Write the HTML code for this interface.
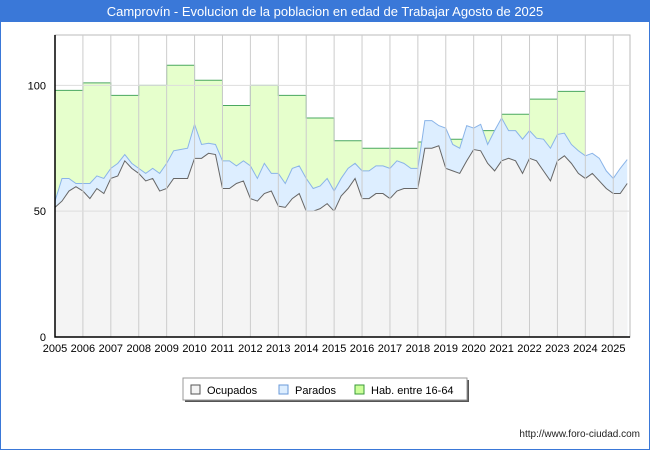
<!DOCTYPE html>
<html><head><meta charset="utf-8"><style>
body{margin:0;background:#fff;font-family:"Liberation Sans",sans-serif;}
#wrap{position:relative;width:650px;height:450px;}
</style></head><body>
<div id="wrap">
<svg id="chart" width="650" height="450" xmlns="http://www.w3.org/2000/svg">
<rect x="0.5" y="0.5" width="649" height="449" fill="#fff" stroke="#3a78d8"/>
<rect x="0" y="0" width="650" height="22" fill="#3a78d8"/>
<text x="325" y="16" text-anchor="middle" font-size="13" fill="#fff">Camprovín - Evolucion de la poblacion en edad de Trabajar Agosto de 2025</text>
<g id="plot"></g>
<g>
<rect x="185" y="380" width="284" height="22" fill="#555" />
<rect x="183" y="378" width="284" height="22" fill="#fff" stroke="#999"/>
<rect x="191" y="385" width="9" height="9" fill="#f4f4f4" stroke="#555"/>
<text x="207" y="394" font-size="11">Ocupados</text>
<rect x="279" y="385" width="9" height="9" fill="#ddeeff" stroke="#6a9ad8"/>
<text x="295" y="394" font-size="11">Parados</text>
<rect x="355" y="385" width="9" height="9" fill="#ccff99" stroke="#3a9a3a"/>
<text x="371" y="394" font-size="11">Hab. entre 16-64</text>
</g>
<text x="640" y="437" text-anchor="end" font-size="10" fill="#222">http://www.foro-ciudad.com</text>
</svg>
</div>
<script>
const years=[2005,2006,2007,2008,2009,2010,2011,2012,2013,2014,2015,2016,2017,2018,2019,2020,2021,2022,2023,2024,2025];
const yTicks=[0,50,100];
const habYears=[2005,2006,2007,2008,2009,2010,2011,2012,2013,2014,2015,2016,2017,2018,2019,2020,2021,2022,2023];
const habValues=[98,101,96,100,108,102,92,100,96,87,78,75,75,77.5,78.6,82,88.5,94.5,97.6];
const ocupados=[51.5,54,58,59.7, 58,55,59,57, 63,64,70,67, 65,62,63,58, 59,63,63,63, 71,71,73,72.5, 59,59,61,62, 55,54,57,58, 52,51.5,55,57, 50,50,51,53, 50,56,59,63, 55,55,57,57, 55,58,59,59, 59,75,75,76, 67,66,65,70, 74.5,74,69,66, 70,71,70,65, 71,70,66,62, 70,72,69,65, 63,65,62,59, 57,57,61];
const parados=[54,63,63,61, 61,61,64,63, 67,69,72.5,69, 67,65,67,65, 69,74,74.5,75, 84.5,76.5,77,76.5, 70,70,68,70, 68,63,69,65, 65,61,67,68, 63,59,60,63, 58,63,67,69, 66,66,68,68, 67,70,69,67, 67,86,86,84, 83,76.5,75,84, 83,84.5,76.5,82, 87,82,82,78.6, 82,79,78.6,75, 80.5,81,76.5,74, 72,73,71,66, 63,67,70.5];

const X0=55,X1=630,Y0=337,YT=35,t0=2005,tEnd=2025.6,yMax=120;
const sx=t=>X0+(t-t0)/(tEnd-t0)*(X1-X0);
const sy=v=>Y0-v/yMax*(Y0-YT);
const ns="http://www.w3.org/2000/svg";
const g=document.getElementById('plot');
function mk(tag,attrs){const e=document.createElementNS(ns,tag);for(const k in attrs)e.setAttribute(k,attrs[k]);g.appendChild(e);return e;}
const tq=i=>t0+i*0.25;
let r=mk('rect',{x:X0,y:YT,width:X1-X0,height:Y0-YT,fill:'#fff',stroke:'#bbb'});


// hab area
let hp=`M${sx(habYears[0])},${Y0}`;
habYears.forEach((y,i)=>{hp+=` L${sx(y)},${sy(habValues[i])} L${sx(y+1)},${sy(habValues[i])}`;});
hp+=` L${sx(habYears[habYears.length-1]+1)},${Y0} Z`;
let ha=mk('path',{d:hp,fill:'#e6ffcc',stroke:'none'});


let hl='';
habYears.forEach((y,i)=>{hl+=(i?' L':'M')+`${sx(y)},${sy(habValues[i])} L${sx(y+1)},${sy(habValues[i])}`;});
let hline=mk('path',{d:hl,fill:'none',stroke:'#4aa860','stroke-width':1});


function series(arr,fill,stroke,name){
 let d=`M${sx(tq(0))},${Y0}`;let l='';
 arr.forEach((v,i)=>{d+=` L${sx(tq(i))},${sy(v)}`;l+=(i?' L':'M')+`${sx(tq(i))},${sy(v)}`;});
 d+=` L${sx(tq(arr.length-1))},${Y0} Z`;
 let a=mk('path',{d:d,fill:fill,stroke:'none'});
 
 
 let ln=mk('path',{d:l,fill:'none',stroke:stroke,'stroke-width':1});
 
 
}
series(parados,'#ddeeff','#8ab4e8','parados');
series(ocupados,'#f4f4f4','#666','ocupados');
years.forEach(y=>{
 let l=mk('line',{x1:sx(y),x2:sx(y),y1:YT,y2:Y0,stroke:'#ccc','stroke-width':1});
 
 
 let t=mk('text',{x:sx(y),y:Y0+15,'text-anchor':'middle','font-size':11,fill:'#000'});
 t.textContent=y;
 
 
});
yTicks.forEach(v=>{
 if(v>0){let l=mk('line',{x1:X0,x2:X1,y1:sy(v),y2:sy(v),stroke:'#ddd','stroke-width':1});
 
 }
 let t=mk('text',{x:X0-9,y:sy(v)+4,'text-anchor':'end','font-size':11,fill:'#000'});
 t.textContent=v;
 
 
});
let ax=mk('path',{d:`M${X0},${YT} L${X0},${Y0} L${X1},${Y0}`,fill:'none',stroke:'#000','stroke-width':1.5});


</script>
</body></html>
